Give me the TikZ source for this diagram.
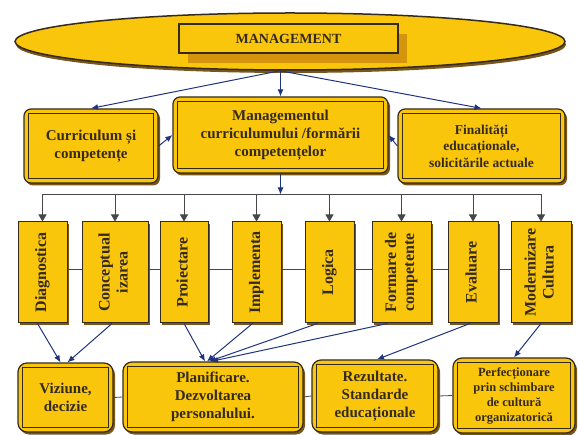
\documentclass[tikz,border=0pt]{standalone}
\usepackage{fontspec}
\setmainfont{Liberation Serif}
\usepackage[]{xcolor}
\usepackage{tikz}
\usetikzlibrary{arrows.meta,shadows,shapes.geometric}

\definecolor{gold}{RGB}{250,198,12}
\definecolor{darkgold}{RGB}{212,148,12}
\definecolor{edge}{RGB}{52,42,30}
\definecolor{shade}{RGB}{120,86,30}
\definecolor{navy}{RGB}{30,52,125}
\definecolor{wire}{RGB}{70,70,75}

\tikzset{
    goldbox/.style={draw=edge, fill=gold, text=edge, line width=1.2pt, rounded corners=7pt, align=center,
        font=\bfseries\fontsize{15}{18}\selectfont,
        drop shadow={shadow xshift=2pt, shadow yshift=-2.5pt, fill=shade, opacity=1}},
    stepbox/.style={draw=edge, fill=gold, text=edge, line width=1pt, inner sep=0pt, minimum height=101,
        font=\bfseries\fontsize{16}{18}\selectfont,
        drop shadow={shadow xshift=2pt, shadow yshift=-2pt, fill=shade, opacity=1}},
    blue arrow/.style={navy, line width=1pt, -{Latex[length=7pt,width=6pt]}},
    black arrow/.style={wire, line width=0.8pt, -{Triangle[length=7pt,width=8pt]}},
    link/.style={wire, line width=0.8pt}
}

\newcommand{\framein}[1]{\draw[edge, line width=0.9pt] ([shift={(5pt,-5pt)}]#1.north west) rectangle ([shift={(-5pt,5pt)}]#1.south east);}
\newcommand{\vtext}[1]{\rotatebox{90}{\begin{tabular}{@{}c@{}}#1\end{tabular}}}

\begin{document}
\begin{tikzpicture}[x=1pt, y=-1pt]
    \useasboundingbox (0,0) rectangle (578,435);

    \node[ellipse, draw=edge, fill=gold, line width=1.5pt, minimum width=550, minimum height=57,
        drop shadow={shadow xshift=1pt, shadow yshift=-3pt, fill=shade, opacity=1}] (mgmt) at (290,41.5) {};
    \node[draw=edge, fill=gold, text=edge, line width=1.2pt, minimum width=219, minimum height=29,
        font=\bfseries\fontsize{14}{16}\selectfont,
        drop shadow={shadow xshift=9pt, shadow yshift=-10pt, fill=darkgold, opacity=1}] (title) at (288.5,38.5) {MANAGEMENT};

    \node[goldbox, minimum width=134, minimum height=74] (cur) at (91,146) {Curriculum și\\competențe};
    \node[goldbox, minimum width=215, minimum height=76] (mc) at (280.5,135) {Managementul\\curriculumului /formării\\competențelor};
    \node[goldbox, minimum width=167, minimum height=74, font=\bfseries\fontsize{13.5}{16.5}\selectfont] (fin) at (481.5,146) {Finalități\\educaționale,\\solicitările actuale};
    \framein{cur} \framein{mc} \framein{fin}

    \coordinate (fork) at ([xshift=-10pt]mgmt.south);
    \draw[blue arrow] (fork) -- (cur.north);
    \draw[blue arrow] (mc.north |- fork) -- (mc.north);
    \draw[blue arrow] (fork) -- (fin.north);
    \draw[blue arrow] (cur.east) -- (mc.west);
    \draw[blue arrow] (fin.west) -- (mc.east);

    \node[stepbox, minimum width=49] (diag) at (42.5,272.5) {\vtext{Diagnostica}};
    \node[stepbox, minimum width=66] (conc) at (115,272.5) {\vtext{Conceptual\\izarea}};
    \node[stepbox, minimum width=48] (proi) at (184,272.5) {\vtext{Proiectare}};
    \node[stepbox, minimum width=49] (impl) at (256.5,272.5) {\vtext{Implementa}};
    \node[stepbox, minimum width=49] (logi) at (329.5,272.5) {\vtext{Logica}};
    \node[stepbox, minimum width=59] (form) at (401.5,272.5) {\vtext{Formare de\\competente}};
    \node[stepbox, minimum width=50] (eval) at (473,272.5) {\vtext{Evaluare}};
    \node[stepbox, minimum width=60] (mod) at (541,272.5) {\vtext{Modernizare\\Cultura}};

    \coordinate (bus) at (280,194.5);
    \draw[blue arrow] (mc.south) -- (mc.south |- bus);
    \draw[link] (diag.north |- bus) -- (mod.north |- bus);
    \foreach \n in {diag,conc,proi,impl,logi,form,eval,mod}
        \draw[black arrow] (\n.north |- bus) -- (\n.north);
    \foreach \a/\b in {diag/conc,conc/proi,proi/impl,impl/logi,logi/form,form/eval,eval/mod}
        \draw[link] ([yshift=3pt]\a.east) -- ([yshift=3pt]\b.west);

    \node[goldbox, rounded corners=9pt, minimum width=95, minimum height=69] (viz) at (65.5,397.5) {Viziune,\\decizie};
    \node[goldbox, rounded corners=9pt, minimum width=180, minimum height=70] (plan) at (213,397) {Planificare.\\Dezvoltarea\\personalului.};
    \node[goldbox, rounded corners=9pt, minimum width=126, minimum height=72] (rez) at (375,396) {Rezultate.\\Standarde\\educaționale};
    \node[goldbox, rounded corners=9pt, minimum width=122, minimum height=75, font=\bfseries\fontsize{12.5}{15}\selectfont] (perf) at (514,395.5) {Perfecționare\\prin schimbare\\de cultură\\organizatorică};
    \framein{viz} \framein{plan} \framein{rez} \framein{perf}
    \draw[link] (viz.east) -- (plan.west);
    \draw[link] (plan.east) -- (rez.west);
    \draw[link] (rez.east) -- (perf.west);

    \draw[blue arrow] ([xshift=-5pt]diag.south) -- ([xshift=-5pt]viz.north);
    \draw[blue arrow] ([xshift=-3pt]conc.south) -- ([xshift=2pt]viz.north);
    \draw[blue arrow] (proi.south) -- ([xshift=-8pt]plan.north);
    \draw[blue arrow] ([xshift=-4pt]impl.south) -- ([xshift=-6pt]plan.north);
    \draw[blue arrow] ([xshift=-12pt]logi.south) -- ([xshift=-4pt]plan.north);
    \draw[blue arrow] ([xshift=-14pt]form.south) -- ([xshift=-2pt]plan.north);
    \draw[blue arrow] ([xshift=-3pt]eval.south) -- ([xshift=2pt]rez.north);
    \draw[blue arrow] (mod.south) -- (perf.north);
\end{tikzpicture}
\end{document}
